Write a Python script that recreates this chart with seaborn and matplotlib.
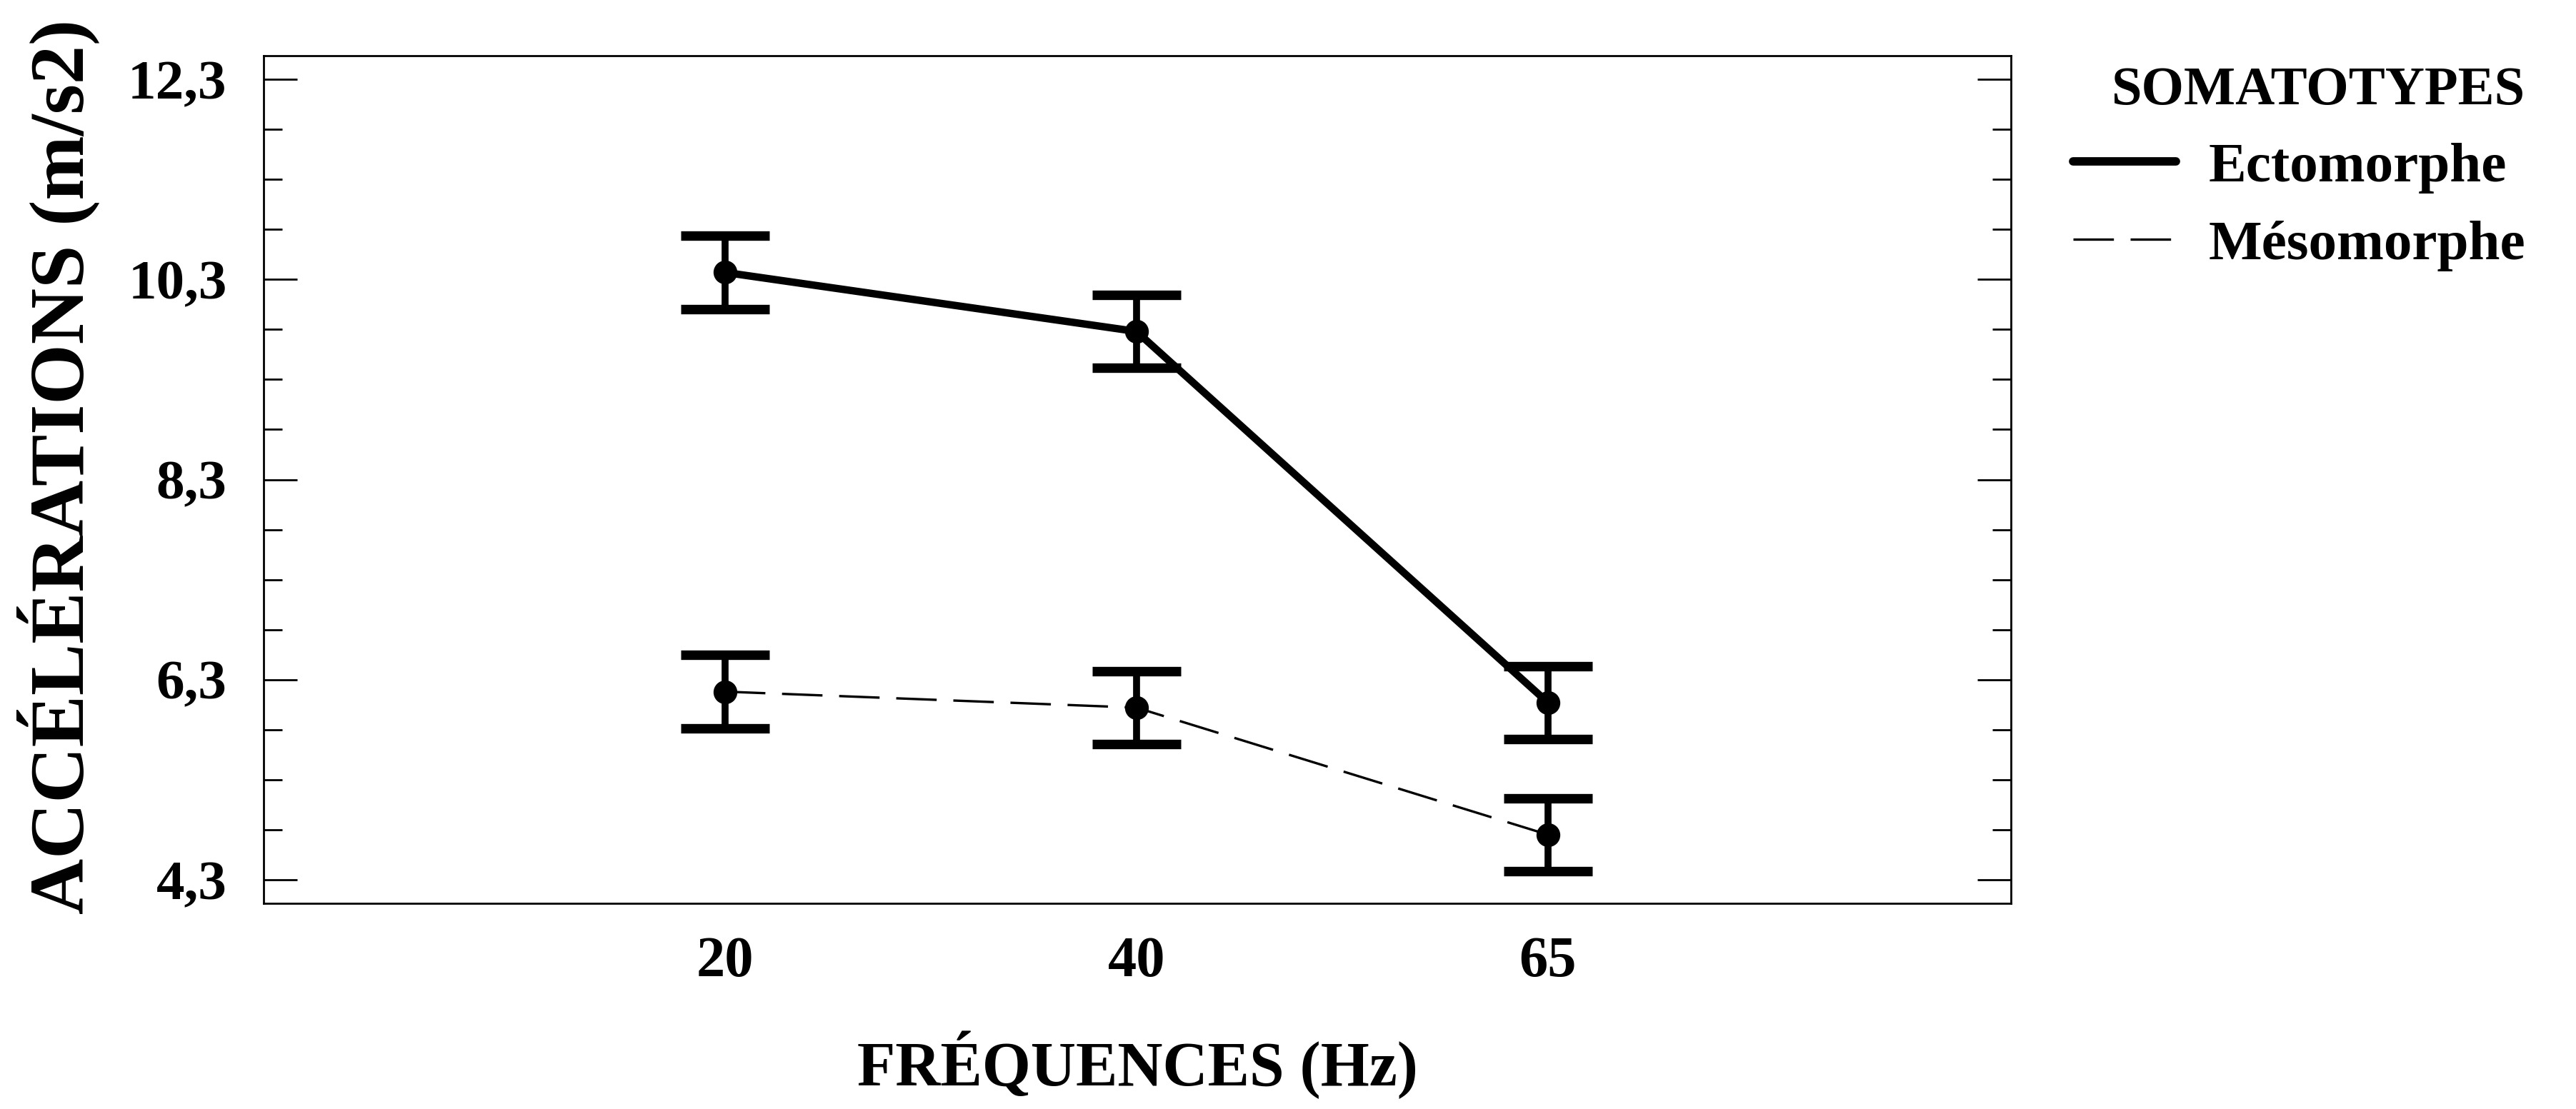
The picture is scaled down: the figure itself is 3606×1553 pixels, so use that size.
import numpy as np
import pandas as pd
import matplotlib
matplotlib.use("Agg")
import matplotlib.pyplot as plt
import seaborn as sns
from matplotlib.lines import Line2D
from matplotlib.ticker import FixedLocator, MultipleLocator, FuncFormatter

# Mean accelerations (m/s2) per vibration frequency and somatotype
frequencies = ["20", "40", "65"]
groups = ["Ectomorphe", "Mésomorphe"]
ectomorphe = [10.37, 9.78, 6.07]
mesomorphe = [6.18, 6.02, 4.75]
ecto_err = [0.365, 0.365, 0.365]
meso_err = [0.365, 0.365, 0.365]
y_ticks = [4.3, 6.3, 8.3, 10.3, 12.3]

sns.set_theme(style="white")
plt.rcParams["font.family"] = ["Liberation Serif", "DejaVu Serif"]
plt.rcParams["font.weight"] = "bold"
plt.rcParams["axes.edgecolor"] = "black"
plt.rcParams["axes.linewidth"] = 2.0
plt.rcParams["text.color"] = "black"
plt.rcParams["axes.labelcolor"] = "black"
plt.rcParams["xtick.color"] = "black"
plt.rcParams["ytick.color"] = "black"

df = pd.DataFrame({
    "Fréquence": frequencies * 2,
    "Accélération": ectomorphe + mesomorphe,
    "Somatotype": [groups[0]] * len(frequencies) + [groups[1]] * len(frequencies),
})

W, H = 3606, 1553
fig = plt.figure(figsize=(W / 100, H / 100), dpi=100)
fig.patch.set_facecolor("white")
ax = fig.add_axes([369 / W, 1 - 1265 / H, (2815 - 369) / W, (1265 - 78) / H])

line_styles = {
    groups[0]: dict(linewidth=7.5, linestyle="-"),
    groups[1]: dict(linewidth=2.4, linestyle=(0, (17, 7))),
}
errors = {groups[0]: ecto_err, groups[1]: meso_err}

pos = np.arange(len(frequencies))
for name in groups:
    sub = df[df["Somatotype"] == name]
    # interval bars around each mean
    ax.errorbar(pos, sub["Accélération"].to_numpy(), yerr=errors[name], fmt="none",
                ecolor="black", elinewidth=7, capsize=44.5, capthick=9.6, zorder=2)
    sns.pointplot(data=sub, x="Fréquence", y="Accélération", order=frequencies,
                  errorbar=None, color="black", marker="o", markersize=24,
                  markeredgewidth=0, ax=ax, zorder=3, **line_styles[name])

ax.set_xlim(-1.121, 3.125)
ax.set_ylim(4.064, 12.536)

ax.yaxis.set_major_locator(FixedLocator(y_ticks))
ax.yaxis.set_minor_locator(MultipleLocator(0.5, offset=0.3))
ax.yaxis.set_major_formatter(FuncFormatter(lambda v, p: f"{v:.1f}".replace(".", ",")))

ax.tick_params(axis="y", which="both", direction="in", left=True, right=True,
               width=2.0, colors="black")
ax.tick_params(axis="y", which="major", length=34, labelsize=57, pad=37)
ax.tick_params(axis="y", which="minor", length=19)
ax.tick_params(axis="x", which="both", bottom=False, top=False, length=0,
               labelsize=58, pad=33)
for lab in ax.get_xticklabels() + ax.get_yticklabels():
    lab.set_fontweight("bold")

for sp in ax.spines.values():
    sp.set_visible(True)
    sp.set_color("black")
    sp.set_linewidth(2.0)
ax.grid(False)

ax.set_xlabel("FRÉQUENCES (Hz)", fontsize=63, fontweight="bold", va="top")
ax.xaxis.set_label_coords(0.5, -0.150)
ax.set_ylabel("ACCÉLÉRATIONS (m/s2)", fontsize=78, fontweight="bold")
ax.yaxis.set_label_coords(-0.0936, 0.5156)

handles = [
    Line2D([], [], color="black", linewidth=8.5, linestyle="-"),
    Line2D([], [], color="black", linewidth=2.4, linestyle=(0, (17, 7))),
]
fig.legend(handles, groups, title="SOMATOTYPES", loc="upper left",
           bbox_to_anchor=(2902 / W, 1 - 93 / H), frameon=False,
           prop={"size": 57, "weight": "bold"},
           title_fontproperties={"size": 55, "weight": "bold"},
           handlelength=1.82, handletextpad=0.57, labelspacing=0.46,
           borderpad=0, borderaxespad=0, alignment="right")

fig.savefig("out.png", dpi=100, facecolor="white")
